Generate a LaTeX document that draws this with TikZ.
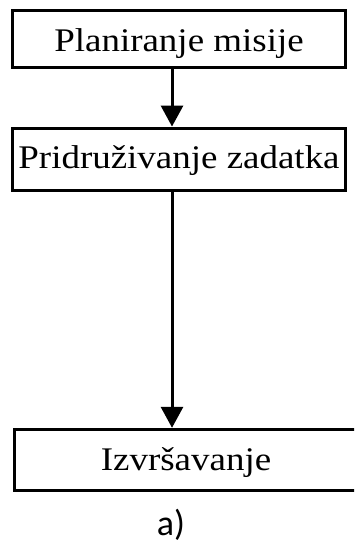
\documentclass[tikz,border=0pt]{standalone}
\usepackage{fontspec}
\setmainfont{Liberation Serif}[FakeStretch=1.12]
\newfontfamily\captionfont{Carlito}
\usetikzlibrary{arrows.meta}
\begin{document}
\begin{tikzpicture}[x=1pt,y=-1pt,
  stage/.style={draw,line width=3pt,rectangle,inner sep=0pt,
    font=\fontsize{33}{36}\selectfont},
  flow/.style={line width=3pt,-{Triangle[length=21pt,width=22pt]}}]
\useasboundingbox (0,0) rectangle (354,543);
\begin{scope}
\clip (0,0) rectangle (354,543);
\node[stage,minimum width=333pt,minimum height=57.3pt,text height=25pt,text depth=0pt]
  (plan) at (179,39.3) {Planiranje misije};
\node[stage,minimum width=333pt,minimum height=62.7pt,text height=18pt,text depth=0pt]
  (assign) at (179,159.4) {Pridruživanje zadatka};
\node[stage,minimum width=343pt,minimum height=61.2pt,text height=21pt,text depth=0pt]
  (exec) at (186,459.9) {Izvršavanje};
\end{scope}
\draw[flow] (plan.south -| 172,0) -- (assign.north -| 172,0);
\draw[flow] (assign.south -| 172,0) -- (exec.north -| 172,0);
\node[font=\captionfont\fontsize{36}{40}\selectfont,inner sep=0pt,anchor=base] (cap) at (171,535) {a)};
\end{tikzpicture}
\end{document}
